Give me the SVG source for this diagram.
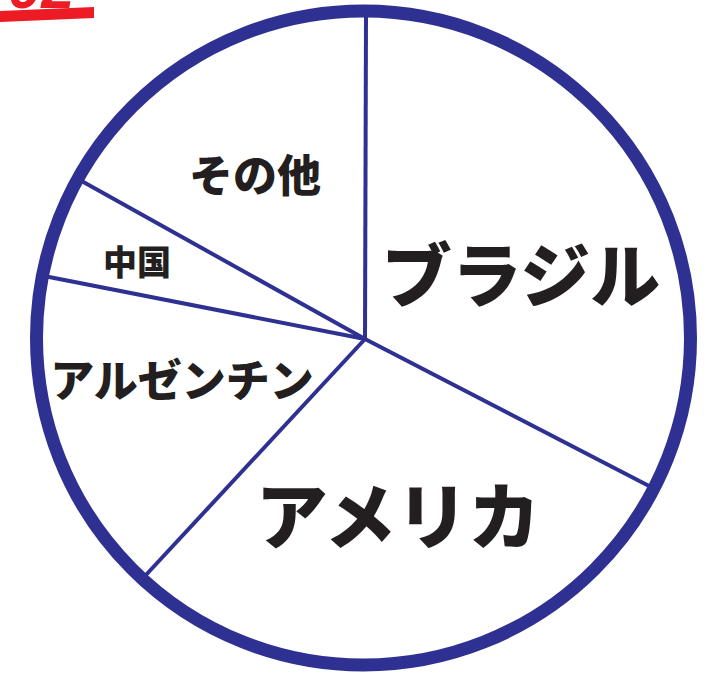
<svg xmlns="http://www.w3.org/2000/svg" width="718" height="675" viewBox="0 0 718 675">
<style>
.lbl{font-family:"Noto Sans CJK JP","Noto Sans CJK SC",sans-serif;font-weight:900;fill:#231f20;text-anchor:middle}
.spoke{stroke:#2e3192;stroke-width:4;fill:none;stroke-linecap:butt}
.ring{stroke:#2e3192;stroke-width:13;fill:none}
</style>
<rect width="718" height="675" fill="#ffffff"/>
<g id="header">
<text x="8" y="8" font-family="Liberation Sans, sans-serif" font-weight="bold" font-style="italic" font-size="60" fill="#ed1c24">02</text>
<polygon points="0,11 94,7 94,18 0,22" fill="#ed1c24"/>
</g>
<g id="connectors">
<line class="spoke" x1="365" y1="339" x2="366" y2="15"/>
<line class="spoke" x1="365" y1="339" x2="651" y2="487"/>
<line class="spoke" x1="365" y1="339" x2="145" y2="576"/>
<line class="spoke" x1="365" y1="339" x2="44" y2="276"/>
<line class="spoke" x1="365" y1="339" x2="78" y2="179"/>
</g>
<circle id="pie" class="ring" cx="363.5" cy="338" r="327"/>
<g id="brazil"><text class="lbl" x="521" y="302" font-size="70">ブラジル</text></g>
<g id="usa"><text class="lbl" x="398" y="543" font-size="72">アメリカ</text></g>
<g id="argentina"><text class="lbl" x="182" y="397" font-size="44">アルゼンチン</text></g>
<g id="china"><text class="lbl" x="137" y="275" font-size="34">中国</text></g>
<g id="others"><text class="lbl" x="255" y="192" font-size="44">その他</text></g>
</svg>
